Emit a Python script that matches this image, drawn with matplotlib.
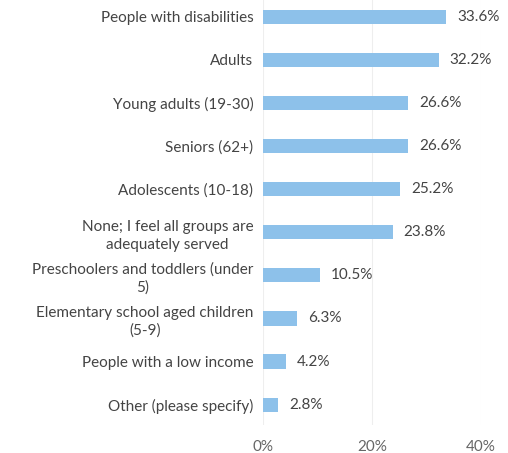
import matplotlib.pyplot as plt

# Datos de la encuesta
categories = [
    "People with disabilities",
    "Adults",
    "Young adults (19-30)",
    "Seniors (62+)",
    "Adolescents (10-18)",
    "None; I feel all groups are\nadequately served",
    "Preschoolers and toddlers (under\n5)",
    "Elementary school aged children\n(5-9)",
    "People with a low income",
    "Other (please specify)",
]
values = [33.6, 32.2, 26.6, 26.6, 25.2, 23.8, 10.5, 6.3, 4.2, 2.8]
xticks = [0, 20, 40]

plt.rcParams['font.family'] = ['Lato', 'DejaVu Sans']

fig = plt.figure(figsize=(5.08, 4.53), dpi=100)
ax = fig.add_axes([0.518, 0.062, 0.429, 0.938])

pos = list(range(len(categories)))
ax.barh(pos, values, height=0.33, color='#8DC1EA', zorder=2)

for p, v in zip(pos, values):
    ax.text(v + 2.0, p, f"{v}%", va='center', ha='left', fontsize=11, color='#444444')

ax.set_xlim(0, 40)
ax.set_ylim(9.47, -0.39)
ax.set_yticks(pos)
ax.set_yticklabels(categories, fontsize=11, color='#444444', ha='right', linespacing=1.35)
ax.set_xticks(xticks)
ax.set_xticklabels([f"{t}%" for t in xticks], fontsize=11, color='#666666')
ax.tick_params(axis='both', length=0)
ax.tick_params(axis='y', pad=7)
ax.tick_params(axis='x', pad=11)
for lbl in ax.get_yticklabels():
    lbl.set_multialignment('center')

ax.grid(axis='x', color='#eeeeee', linewidth=0.8, zorder=0)
for s in ax.spines.values():
    s.set_visible(False)

fig.savefig('out.png', dpi=100)
